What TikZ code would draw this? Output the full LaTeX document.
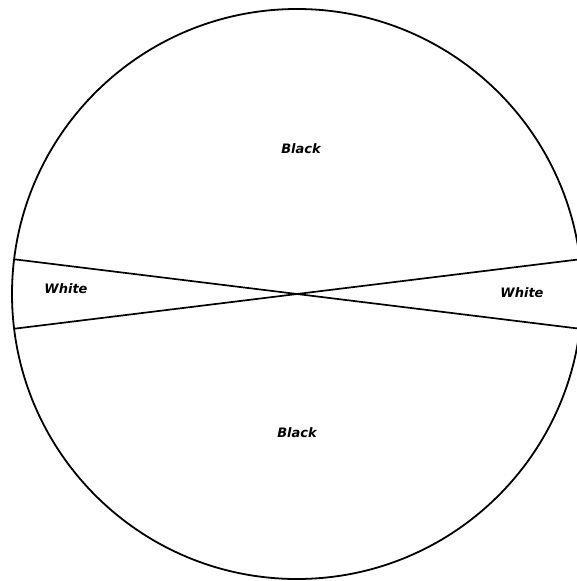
\documentclass[tikz,border=0pt]{standalone}
\usepackage{fontspec}
\newfontfamily\lblfont{DejaVu Sans}
\begin{document}
\begin{tikzpicture}[x=1pt,y=-1pt,
  outline/.style={line width=1.8pt,black},
  lbl/.style={font=\lblfont\bfseries\itshape\fontsize{13}{15}\selectfont}]
\useasboundingbox (0,0) rectangle (577,581);
\coordinate (C) at (297,294);
\draw[outline] (C) circle[radius=285];
\path (C) ++(173:285) coordinate (ul);
\path (C) ++(-7:285) coordinate (lr);
\path (C) ++(187:285) coordinate (ll);
\path (C) ++(7:285) coordinate (ur);
\draw[outline,line width=1.7pt] (ul) -- (lr);
\draw[outline,line width=1.7pt] (ll) -- (ur);
\node[lbl] (b1) at (301,149) {Black};
\node[lbl] (b2) at (297,433) {Black};
\node[lbl] (w1) at (66,289) {White};
\node[lbl] (w2) at (522,293) {White};
\end{tikzpicture}
\end{document}
